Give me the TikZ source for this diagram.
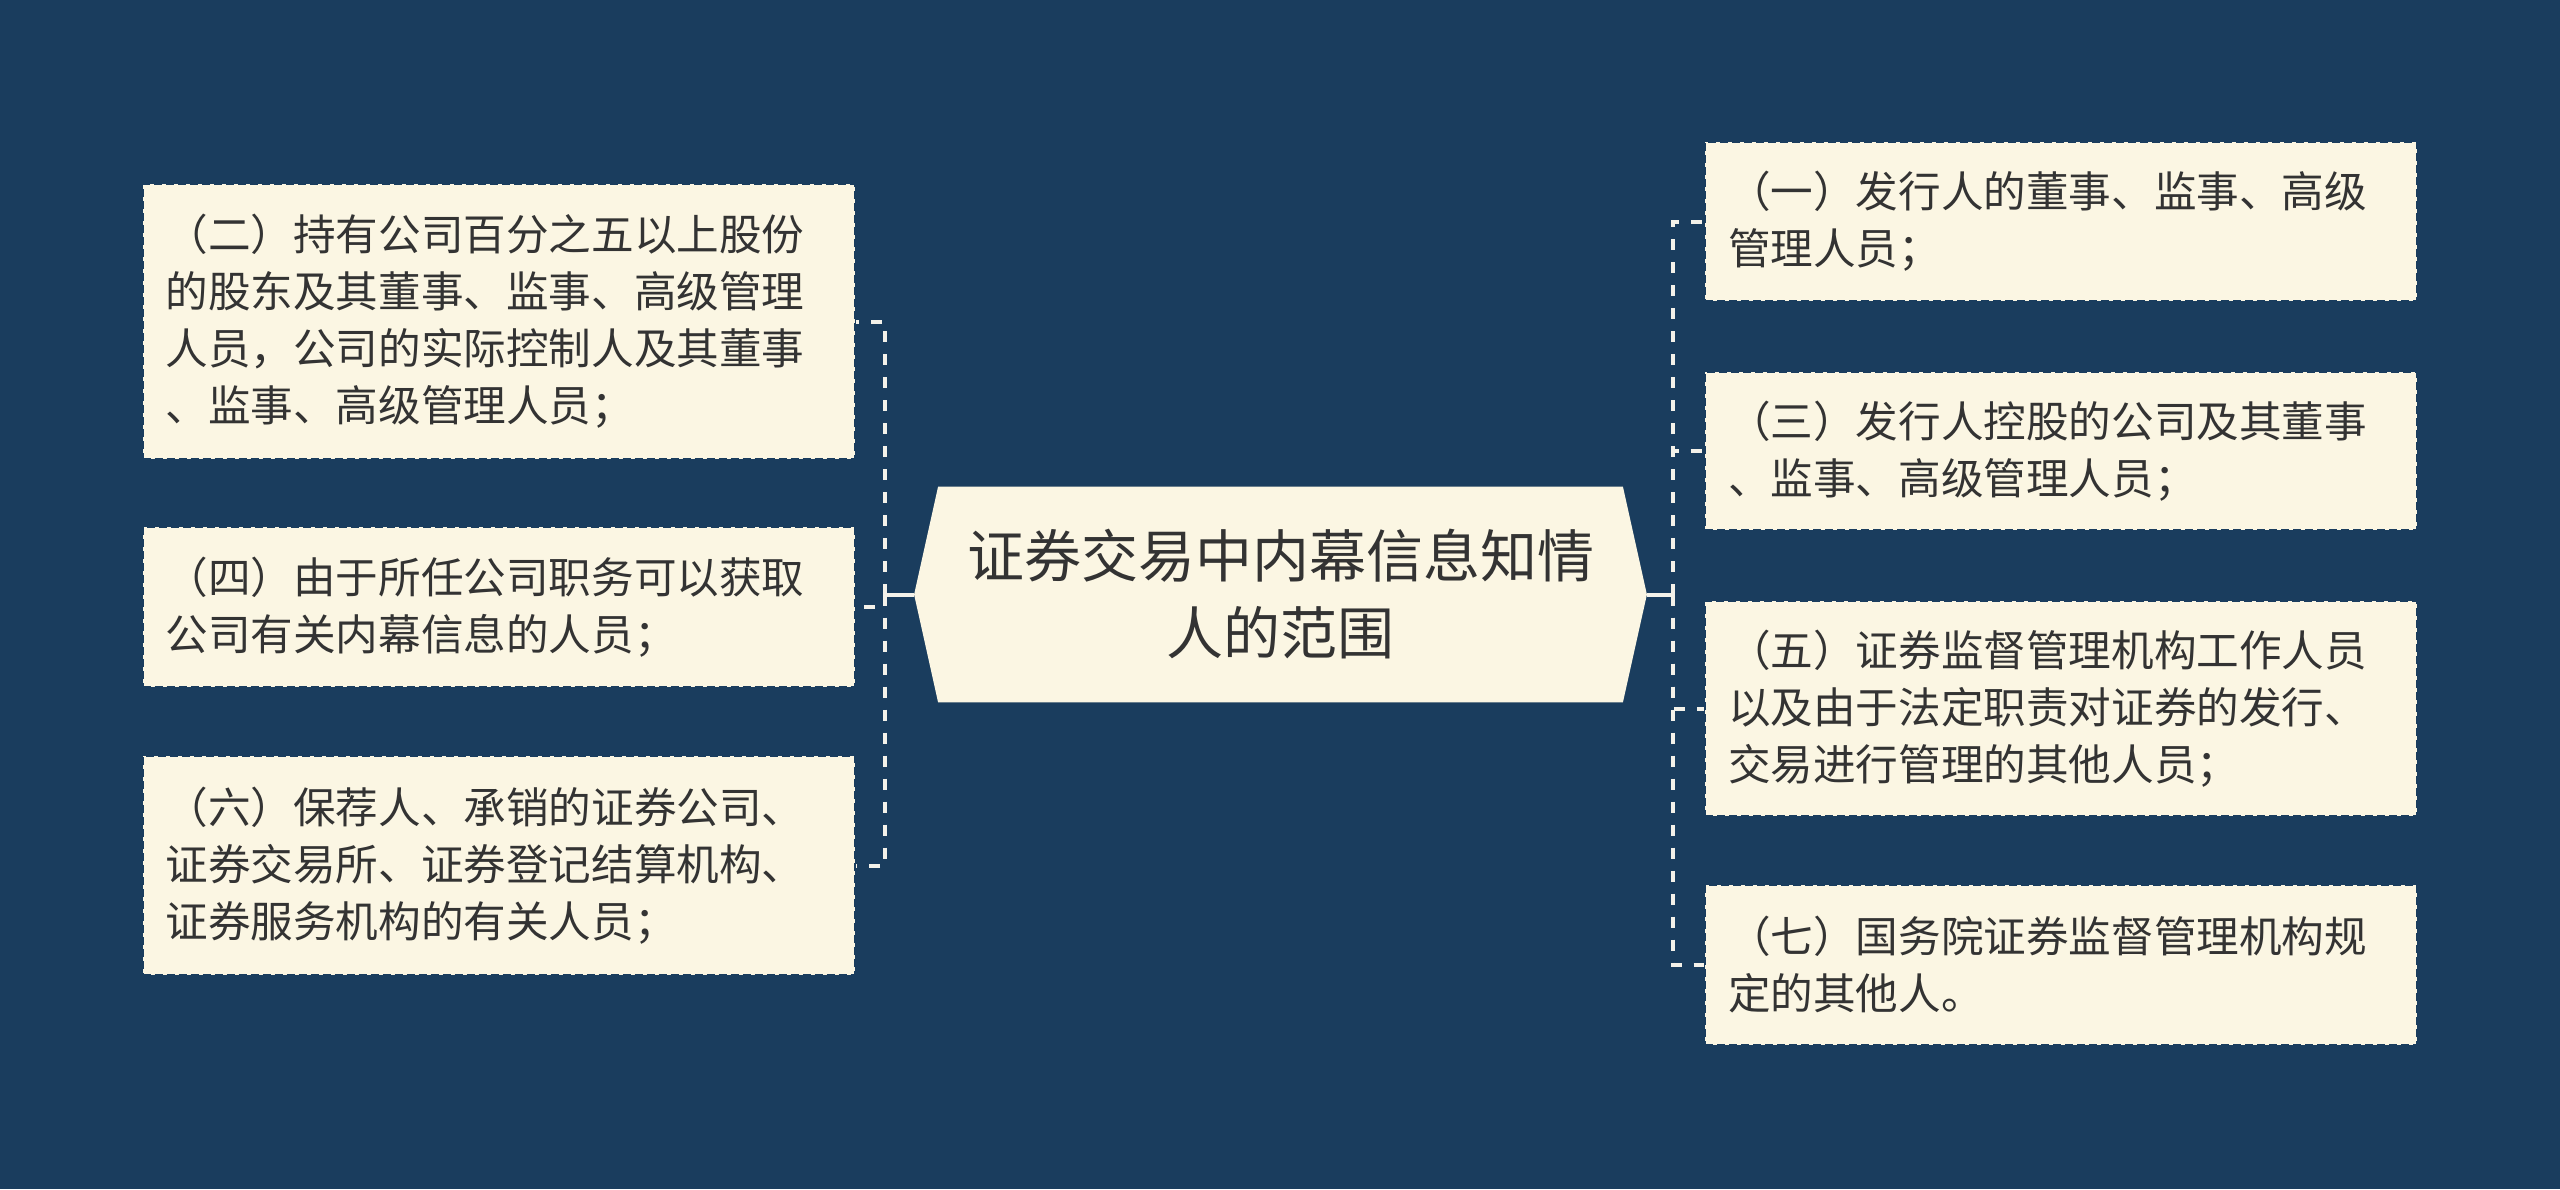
\documentclass[tikz,border=0pt]{standalone}
\usepackage{fontspec}
\newfontfamily\cjk{Noto Sans CJK SC}
\usetikzlibrary{backgrounds}
\definecolor{bgnavy}{HTML}{1A3D5E}
\definecolor{cream}{HTML}{FBF6E3}
\definecolor{txt}{HTML}{333333}
\definecolor{linkc}{HTML}{F4F2EA}
\tikzset{
  leafbox/.style={fill=cream, draw=bgnavy, line width=1pt, dash pattern=on 4pt off 2pt,
    text=txt, align=left, inner xsep=11.5pt, inner ysep=0pt, text width=333pt,
    minimum width=356pt, font=\cjk\fontsize{21.3pt}{28.5pt}\selectfont},
  hubtext/.style={text=txt, align=center, inner sep=0pt, minimum width=366pt, minimum height=107.5pt,
    font=\cjk\fontsize{28.5pt}{38.5pt}\selectfont},
  solidlink/.style={draw=linkc, line width=2pt},
  dashlink/.style={draw=linkc, line width=2pt, dash pattern=on 5.5pt off 6pt},
}
\begin{document}
\begin{tikzpicture}[x=0.5pt,y=-0.5pt]
\useasboundingbox (0,0) rectangle (2560,1189);
\begin{scope}[on background layer]
  \fill[bgnavy] (0,0) rectangle (2560,1189);
\end{scope}
% hub
\node[hubtext] (hub) at (1280.5,594.5) {证券交易中内幕信息知情\\人的范围};
\begin{scope}[on background layer]
  \fill[cream] ([xshift=12pt]hub.north west) -- ([xshift=-12pt]hub.north east) -- (hub.east)
    -- ([xshift=-12pt]hub.south east) -- ([xshift=12pt]hub.south west) -- (hub.west) -- cycle;
\end{scope}
% left boxes
\node[leafbox, minimum height=137.5pt] (b2) at (498.5,321.5) {（二）持有公司百分之五以上股份\\的股东及其董事、监事、高级管理\\人员，公司的实际控制人及其董事\\、监事、高级管理人员；};
\node[leafbox, minimum height=80pt] (b4) at (498.5,607) {（四）由于所任公司职务可以获取\\公司有关内幕信息的人员；};
\node[leafbox, minimum height=109.5pt] (b6) at (498.5,865.5) {（六）保荐人、承销的证券公司、\\证券交易所、证券登记结算机构、\\证券服务机构的有关人员；};
% right boxes
\node[leafbox, minimum height=79.5pt] (b1) at (2061,221.5) {（一）发行人的董事、监事、高级\\管理人员；};
\node[leafbox, minimum height=79pt] (b3) at (2061,451) {（三）发行人控股的公司及其董事\\、监事、高级管理人员；};
\node[leafbox, minimum height=107.5pt] (b5) at (2061,708.5) {（五）证券监督管理机构工作人员\\以及由于法定职责对证券的发行、\\交易进行管理的其他人员；};
\node[leafbox, minimum height=80pt] (b7) at (2061,965) {（七）国务院证券监督管理机构规\\定的其他人。};
% connectors
\coordinate (lj) at (885,594.5);
\coordinate (rj) at (1673,594.5);
\draw[solidlink] (hub.west) -- (lj);
\draw[solidlink] (hub.east) -- (rj);
\draw[dashlink] (lj) |- (b2.east);
\draw[dashlink] (lj) |- (b4.east);
\draw[dashlink] (lj) |- (b6.east);
\draw[dashlink] (rj) |- (b1.west);
\draw[dashlink] (rj) |- (b3.west);
\draw[dashlink] (rj) |- (b5.west);
\draw[dashlink] (rj) |- (b7.west);
\end{tikzpicture}
\end{document}
